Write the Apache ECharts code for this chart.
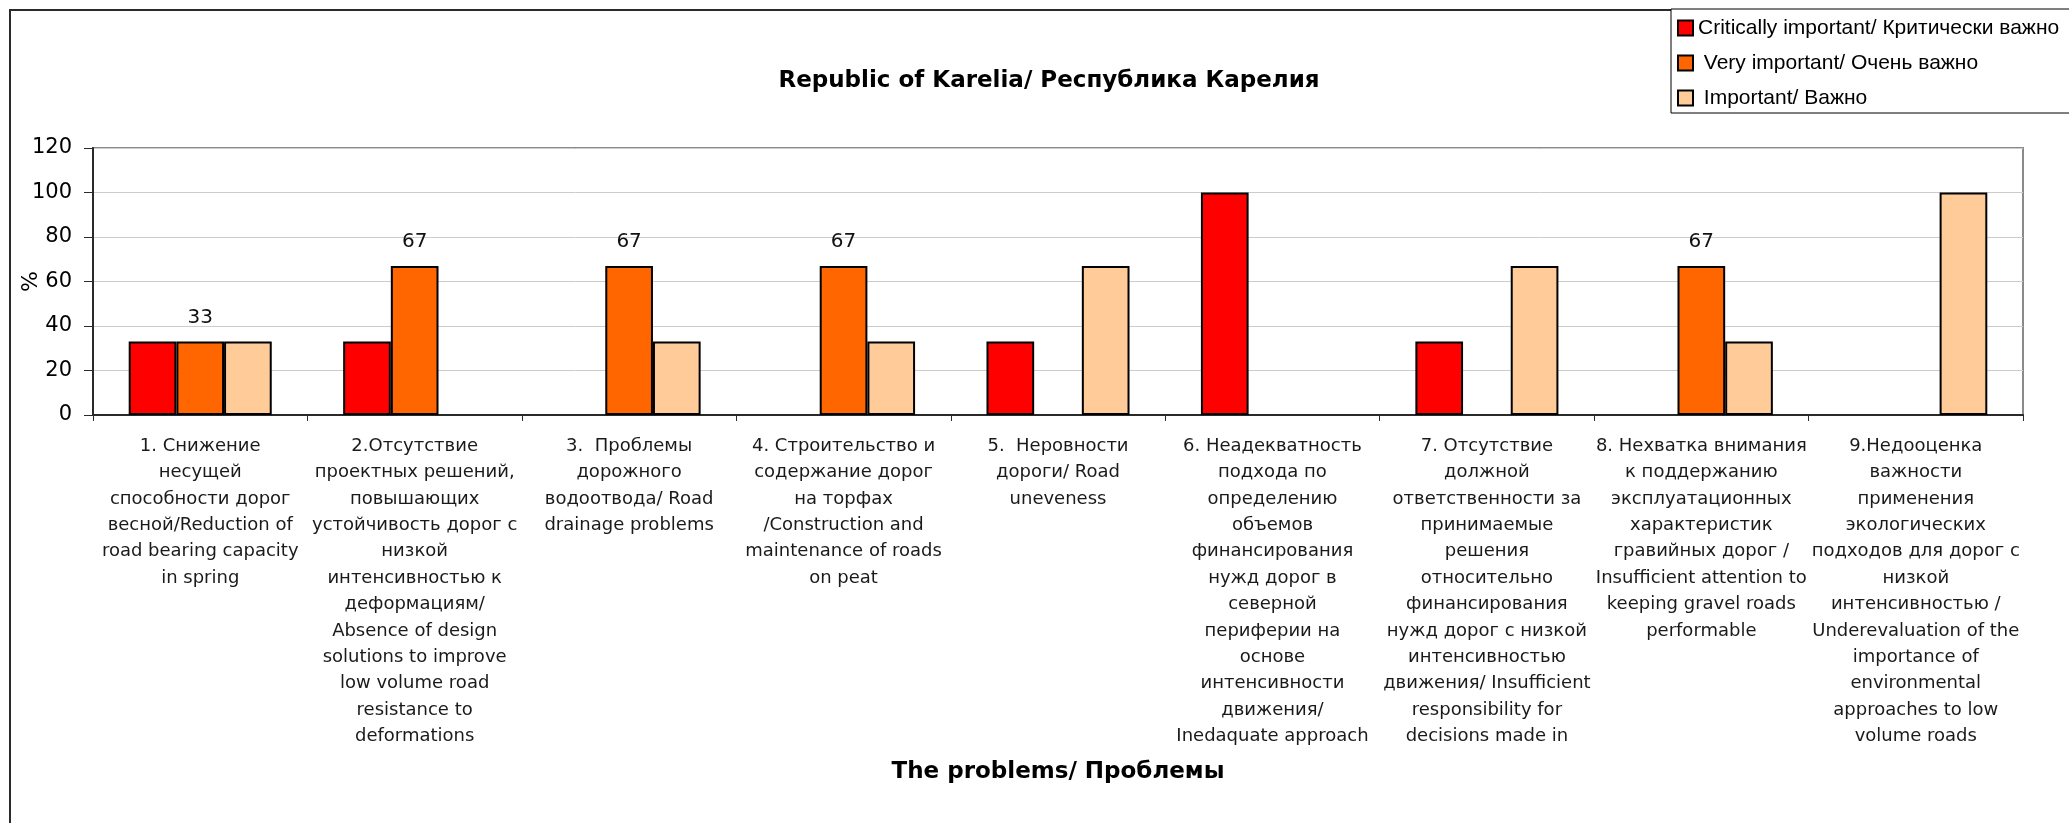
<!DOCTYPE html>
<html>
<head>
<meta charset="utf-8">
<script src="https://cdn.jsdelivr.net/npm/echarts@6/dist/echarts.min.js"></script>
<style>
  html, body { margin: 0; padding: 0; background: #ffffff; }
  #chart { width: 2069px; height: 823px; }
</style>
</head>
<body>
<div id="chart"></div>
<script>
// Problem categories (x axis), one multi-line label per problem
const categories = [
  '1. Снижение\nнесущей\nспособности дорог\nвесной/Reduction of\nroad bearing capacity\nin spring',
  '2.Отсутствие\nпроектных решений,\nповышающих\nустойчивость дорог с\nнизкой\nинтенсивностью к\nдеформациям/\nAbsence of design\nsolutions to improve\nlow volume road\nresistance to\ndeformations',
  '3.  Проблемы\nдорожного\nводоотвода/ Road\ndrainage problems',
  '4. Строительство и\nсодержание дорог\nна торфах\n/Construction and\nmaintenance of roads\non peat',
  '5.  Неровности\nдороги/ Road\nuneveness',
  '6. Неадекватность\nподхода по\nопределению\nобъемов\nфинансирования\nнужд дорог в\nсеверной\nпериферии на\nоснове\nинтенсивности\nдвижения/\nInedaquate approach',
  '7. Отсутствие\nдолжной\nответственности за\nпринимаемые\nрешения\nотносительно\nфинансирования\nнужд дорог с низкой\nинтенсивностью\nдвижения/ Insufficient\nresponsibility for\ndecisions made in',
  '8. Нехватка внимания\nк поддержанию\nэксплуатационных\nхарактеристик\nгравийных дорог /\nInsufficient attention to\nkeeping gravel roads\nperformable',
  '9.Недооценка\nважности\nприменения\nэкологических\nподходов для дорог с\nнизкой\nинтенсивностью /\nUnderevaluation of the\nimportance of\nenvironmental\napproaches to low\nvolume roads'
];

// Share of answers, %
const seriesNames = [
  'Critically important/ Критически важно',
  ' Very important/ Очень важно',
  ' Important/ Важно'
];
const criticallyImportant = [33, 33, 0, 0, 33, 100, 33, 0, 0];
const veryImportant       = [33, 67, 67, 67, 0, 0, 0, 67, 0];
const important           = [33, 0, 33, 33, 67, 0, 67, 33, 100];

const seriesColors = ['#FF0000', '#FF6600', '#FFCC99'];

const chartTitle = 'Republic of Karelia/ Республика Карелия';
const xAxisTitle = 'The problems/ Проблемы';
const yAxisTitle = '%';

const FONT = '"DejaVu Sans", sans-serif';

// Zero answers leave the slot empty
const asBars = arr => arr.map(v => (v === 0 ? '-' : v));

function barSeries(idx, values, withLabels) {
  return {
    name: seriesNames[idx],
    type: 'bar',
    data: asBars(values),
    barGap: '0%',
    barCategoryGap: '33.3%',
    itemStyle: {
      color: seriesColors[idx],
      borderColor: '#000000',
      borderWidth: 2
    },
    label: {
      show: withLabels,
      position: 'top',
      distance: 14,
      color: '#111111',
      fontFamily: FONT,
      fontSize: 20
    },
    emphasis: { disabled: true }
  };
}

const chart = echarts.init(document.getElementById('chart'), null, { renderer: 'canvas' });

chart.setOption({
  backgroundColor: '#ffffff',
  animation: false,
  title: {
    text: chartTitle,
    left: 1044,
    top: 65,
    textAlign: 'center',
    textStyle: {
      fontFamily: FONT,
      fontWeight: 'bold',
      fontSize: 23,
      color: '#000000'
    }
  },
  legend: {
    orient: 'vertical',
    left: 1671,
    top: 9,
    padding: [8, 30, 4, 6],
    itemWidth: 15,
    itemHeight: 15,
    itemGap: 13,
    icon: 'rect',
    borderColor: '#000000',
    borderWidth: 1,
    backgroundColor: '#ffffff',
    textStyle: {
      fontFamily: '"Liberation Sans", Arial, sans-serif',
      fontSize: 21,
      lineHeight: 22,
      color: '#000000'
    },
    data: seriesNames
  },
  grid: {
    left: 93,
    right: 46,
    top: 148,
    bottom: 408,
    containLabel: false,
    outerBoundsMode: 'none',
    show: true,
    borderColor: '#8a8a8a',
    borderWidth: 2,
    backgroundColor: 'transparent'
  },
  xAxis: {
    type: 'category',
    data: categories,
    name: xAxisTitle,
    nameLocation: 'middle',
    nameGap: 346,
    nameTextStyle: {
      fontFamily: FONT,
      fontWeight: 'bold',
      fontSize: 23,
      color: '#000000'
    },
    axisLine: { show: true, lineStyle: { color: '#2a2a2a', width: 2 } },
    axisTick: { show: true, length: 6, lineStyle: { color: '#2a2a2a', width: 1 } },
    axisLabel: {
      interval: 0,
      margin: 18,
      fontFamily: FONT,
      fontSize: 18,
      lineHeight: 26.4,
      color: '#1a1a1a',
      align: 'center'
    },
    splitLine: { show: false }
  },
  yAxis: {
    type: 'value',
    min: 0,
    max: 120,
    interval: 20,
    name: yAxisTitle,
    nameLocation: 'middle',
    nameRotate: 90,
    nameGap: 51,
    nameMoveOverlap: false,
    nameTextStyle: {
      fontFamily: FONT,
      fontSize: 22,
      color: '#000000'
    },
    axisLine: { show: true, lineStyle: { color: '#2a2a2a', width: 2 } },
    axisTick: { show: true, length: 9, lineStyle: { color: '#2a2a2a', width: 1 } },
    axisLabel: {
      margin: 21,
      fontFamily: FONT,
      fontSize: 21,
      color: '#000000'
    },
    splitLine: { show: true, lineStyle: { color: '#cccccc', width: 1 } }
  },
  graphic: [
    {
      // outer chart frame
      type: 'rect',
      z: -1,
      shape: { x: 10, y: 10, width: 2100, height: 900 },
      style: { fill: 'none', stroke: '#2b2b2b', lineWidth: 2 }
    }
  ],
  series: [
    barSeries(0, criticallyImportant, false),
    barSeries(1, veryImportant, true),
    barSeries(2, important, false)
  ]
});
</script>
</body>
</html>
